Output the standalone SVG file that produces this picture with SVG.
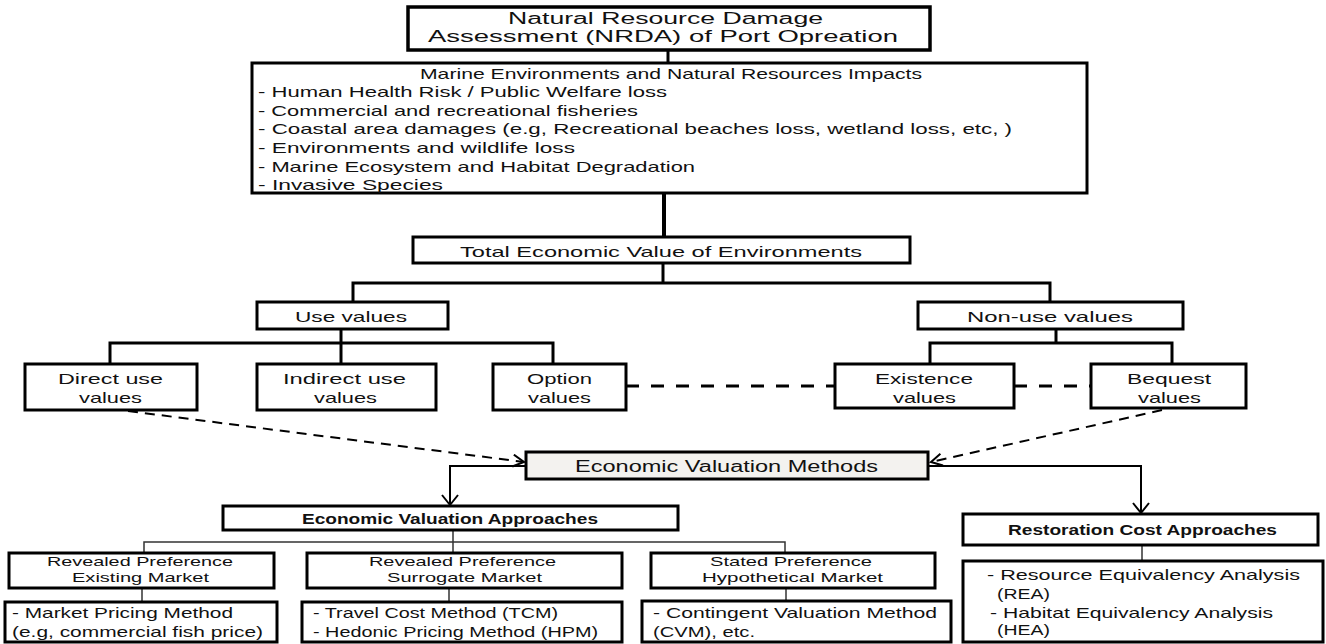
<svg xmlns="http://www.w3.org/2000/svg" width="1326" height="644" viewBox="0 0 1326 644">
<defs>
<style>
.box{fill:#fff;stroke:#000;stroke-width:3}
.t{font-family:"Liberation Sans",Arial,sans-serif;font-size:15px;fill:#111}
.tb{font-family:"Liberation Sans",Arial,sans-serif;font-size:15px;font-weight:bold;fill:#111}
.s{font-size:13px}
.c3{fill:none;stroke:#000;stroke-width:3}
.c4{fill:none;stroke:#000;stroke-width:4}
.thin{fill:none;stroke:#333;stroke-width:1.5}
.dash{fill:none;stroke:#000;stroke-width:3;stroke-dasharray:13 12}
.dd{fill:none;stroke:#000;stroke-width:2;stroke-dasharray:10 7}
.solid{fill:none;stroke:#000;stroke-width:2}
</style>
<marker id="arrD" markerUnits="userSpaceOnUse" markerWidth="16" markerHeight="16" refX="12" refY="7" orient="auto"><path d="M1,1 L12,7 L1,13" fill="none" stroke="#000" stroke-width="2" stroke-dasharray="none"/></marker>
<marker id="arrS" markerUnits="userSpaceOnUse" markerWidth="20" markerHeight="20" refX="11" refY="9" orient="auto"><path d="M1,1 L11,9 L1,17" fill="none" stroke="#000" stroke-width="2" stroke-dasharray="none"/></marker>
</defs>
<rect width="1326" height="644" fill="#fff"/>

<g id="connectors">
<line class="c3" x1="668" y1="50" x2="668" y2="63"/>
<line class="c4" x1="664" y1="193" x2="664" y2="237"/>
<line class="c3" x1="663" y1="263" x2="663" y2="283"/>
<polyline class="c3" points="353,302 353,283 1050,283 1050,302"/>
<line class="c3" x1="341" y1="329" x2="341" y2="364"/>
<polyline class="c3" points="110,364 110,343 553,343 553,364"/>
<line class="c3" x1="1056" y1="329" x2="1056" y2="343"/>
<polyline class="c3" points="930,364 930,343 1172,343 1172,364"/>
<line class="dash" x1="626" y1="386" x2="835" y2="386"/>
<line class="dash" x1="1014" y1="386" x2="1091" y2="386"/>
<line class="dd" x1="128" y1="411" x2="524" y2="462" marker-end="url(#arrD)"/>
<line class="dd" x1="1162" y1="410" x2="931" y2="462" marker-end="url(#arrD)"/>
<polyline class="solid" points="526,466 450,466 450,505" marker-end="url(#arrS)"/>
<polyline class="solid" points="928,466 1141,466 1141,513" marker-end="url(#arrS)"/>
<line class="thin" x1="453" y1="530" x2="453" y2="553"/>
<polyline class="thin" points="144,553 144,542 785,542 785,553"/>
<line class="thin" x1="142" y1="588" x2="142" y2="602"/>
<line class="thin" x1="449" y1="588" x2="449" y2="602"/>
<line class="thin" x1="786" y1="588" x2="786" y2="601"/>
<line class="thin" x1="1142" y1="545" x2="1142" y2="561"/>
</g>

<g id="nrda">
<rect class="box" x="408" y="7" width="522" height="43" style="stroke-width:3.5"/>
<text class="t" style="font-size:16px" x="508" y="24" textLength="315" lengthAdjust="spacingAndGlyphs">Natural Resource Damage</text>
<text class="t" style="font-size:16px" x="428" y="42" textLength="470" lengthAdjust="spacingAndGlyphs">Assessment (NRDA) of Port Opreation</text>
</g>

<g id="impacts">
<rect class="box" x="252" y="63" width="835" height="130"/>
<text class="t" x="420" y="78.5" textLength="502" lengthAdjust="spacingAndGlyphs">Marine Environments  and Natural Resources Impacts</text>
<text class="t" x="258" y="96.5" textLength="409" lengthAdjust="spacingAndGlyphs">- Human Health Risk / Public Welfare loss</text>
<text class="t" x="258" y="115.5" textLength="380" lengthAdjust="spacingAndGlyphs">- Commercial  and recreational  fisheries</text>
<text class="t" x="258" y="133.5" textLength="754" lengthAdjust="spacingAndGlyphs">-  Coastal area damages  (e.g, Recreational  beaches  loss, wetland  loss, etc, )</text>
<text class="t" x="258" y="152.5" textLength="317" lengthAdjust="spacingAndGlyphs">-  Environments  and wildlife  loss</text>
<text class="t" x="258" y="171.5" textLength="437" lengthAdjust="spacingAndGlyphs">-  Marine Ecosystem and Habitat  Degradation</text>
<text class="t" x="258" y="189.5" textLength="185" lengthAdjust="spacingAndGlyphs">-  Invasive Species</text>
</g>

<g id="tev">
<rect class="box" x="413" y="237" width="497" height="26"/>
<text class="t" x="460" y="256.5" textLength="402" lengthAdjust="spacingAndGlyphs">Total Economic  Value of Environments</text>
</g>

<g id="use-values">
<rect class="box" x="257" y="302" width="191" height="27"/>
<text class="t" x="295" y="321.5" textLength="112" lengthAdjust="spacingAndGlyphs">Use values</text>
</g>

<g id="non-use-values">
<rect class="box" x="918" y="302" width="265" height="27"/>
<text class="t" x="967" y="321.5" textLength="166" lengthAdjust="spacingAndGlyphs">Non-use  values</text>
</g>

<g id="direct-use">
<rect class="box" x="25" y="364" width="172" height="46"/>
<text class="t" x="58" y="383.5" textLength="105" lengthAdjust="spacingAndGlyphs">Direct  use</text>
<text class="t" x="79" y="402.5" textLength="63" lengthAdjust="spacingAndGlyphs">values</text>
</g>

<g id="indirect-use">
<rect class="box" x="257" y="364" width="179" height="46"/>
<text class="t" x="283" y="383.5" textLength="123" lengthAdjust="spacingAndGlyphs">Indirect  use</text>
<text class="t" x="314" y="402.5" textLength="63" lengthAdjust="spacingAndGlyphs">values</text>
</g>

<g id="option">
<rect class="box" x="493" y="364" width="133" height="46"/>
<text class="t" x="527" y="383.5" textLength="65" lengthAdjust="spacingAndGlyphs">Option</text>
<text class="t" x="528" y="402.5" textLength="63" lengthAdjust="spacingAndGlyphs">values</text>
</g>

<g id="existence">
<rect class="box" x="835" y="364" width="179" height="44"/>
<text class="t" x="875" y="383.5" textLength="98" lengthAdjust="spacingAndGlyphs">Existence</text>
<text class="t" x="893" y="402.5" textLength="63" lengthAdjust="spacingAndGlyphs">values</text>
</g>

<g id="bequest">
<rect class="box" x="1091" y="364" width="155" height="44"/>
<text class="t" x="1127" y="383.5" textLength="84" lengthAdjust="spacingAndGlyphs">Bequest</text>
<text class="t" x="1138" y="402.5" textLength="63" lengthAdjust="spacingAndGlyphs">values</text>
</g>

<g id="evm">
<rect class="box" x="526" y="452" width="402" height="27" style="fill:#f3f2ef"/>
<text class="t" style="font-size:16px" x="575" y="472" textLength="303" lengthAdjust="spacingAndGlyphs">Economic Valuation Methods</text>
</g>

<g id="eva">
<rect class="box" x="223" y="506" width="455" height="24"/>
<text class="tb" x="302" y="523.5" textLength="296" lengthAdjust="spacingAndGlyphs">Economic Valuation Approaches</text>
</g>

<g id="restoration">
<rect class="box" x="963" y="514" width="355" height="31"/>
<text class="tb" x="1008" y="534.5" textLength="269" lengthAdjust="spacingAndGlyphs">Restoration Cost Approaches</text>
</g>

<g id="rp-existing">
<rect class="box" x="9" y="553" width="265" height="35"/>
<text class="t s" x="47" y="566" textLength="186" lengthAdjust="spacingAndGlyphs">Revealed Preference</text>
<text class="t s" x="72" y="582" textLength="137" lengthAdjust="spacingAndGlyphs">Existing Market</text>
</g>

<g id="rp-surrogate">
<rect class="box" x="307" y="553" width="315" height="35"/>
<text class="t s" x="369" y="566" textLength="187" lengthAdjust="spacingAndGlyphs">Revealed Preference</text>
<text class="t s" x="387" y="582" textLength="155" lengthAdjust="spacingAndGlyphs">Surrogate Market</text>
</g>

<g id="sp-hypothetical">
<rect class="box" x="651" y="553" width="284" height="35"/>
<text class="t s" x="710" y="566" textLength="162" lengthAdjust="spacingAndGlyphs">Stated Preference</text>
<text class="t s" x="702" y="582" textLength="181" lengthAdjust="spacingAndGlyphs">Hypothetical Market</text>
</g>

<g id="market-pricing">
<rect class="box" x="5" y="602" width="272" height="40"/>
<text class="t" x="12" y="617.5" textLength="221" lengthAdjust="spacingAndGlyphs">- Market Pricing  Method</text>
<text class="t" x="12" y="636.5" textLength="251" lengthAdjust="spacingAndGlyphs">(e.g, commercial  fish price)</text>
</g>

<g id="travel-hedonic">
<rect class="box" x="302" y="602" width="320" height="40"/>
<text class="t" x="313" y="617.5" textLength="245" lengthAdjust="spacingAndGlyphs">-  Travel Cost  Method (TCM)</text>
<text class="t" x="313" y="636.5" textLength="285" lengthAdjust="spacingAndGlyphs">-  Hedonic Pricing Method (HPM)</text>
</g>

<g id="contingent">
<rect class="box" x="642" y="601" width="309" height="41"/>
<text class="t" x="653" y="617.5" textLength="284" lengthAdjust="spacingAndGlyphs">- Contingent  Valuation Method</text>
<text class="t" x="653" y="636.5" textLength="102" lengthAdjust="spacingAndGlyphs">(CVM), etc.</text>
</g>

<g id="rea-hea">
<rect class="box" x="963" y="561" width="360" height="81"/>
<text class="t" x="987" y="579.5" textLength="313" lengthAdjust="spacingAndGlyphs">-  Resource Equivalency  Analysis</text>
<text class="t" x="997" y="598.5" textLength="53" lengthAdjust="spacingAndGlyphs">(REA)</text>
<text class="t" x="990" y="617.5" textLength="283" lengthAdjust="spacingAndGlyphs">- Habitat  Equivalency  Analysis</text>
<text class="t" x="997" y="634.5" textLength="53" lengthAdjust="spacingAndGlyphs">(HEA)</text>
</g>
</svg>
